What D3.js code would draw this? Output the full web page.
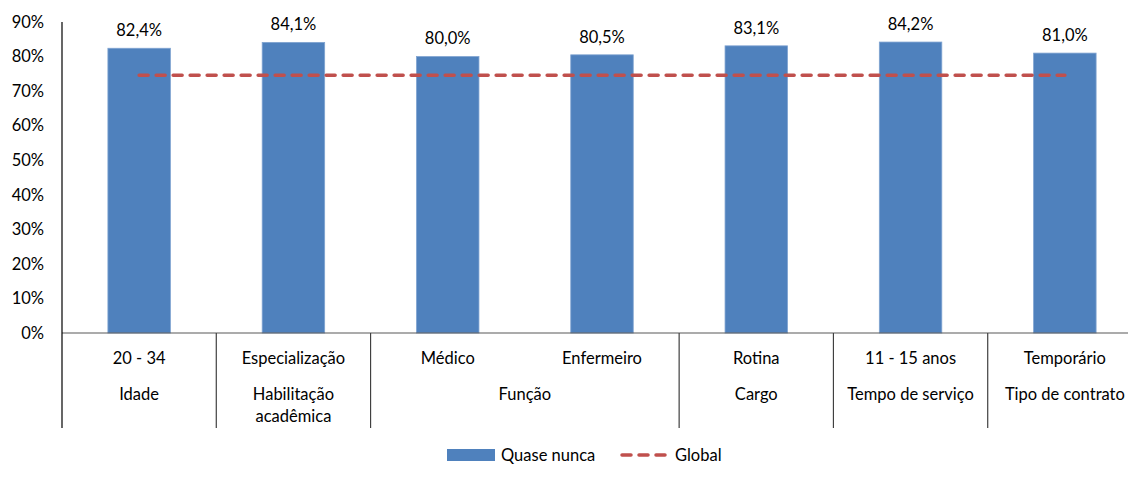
<!DOCTYPE html>
<html>
<head>
<meta charset="utf-8">
<script src="https://cdn.jsdelivr.net/npm/d3@7"></script>
<style>
  body { margin: 0; background: #fff; }
  svg { display: block; font-family: Lato, "Open Sans", sans-serif; }
</style>
</head>
<body>
<svg id="chart"></svg>
<script>
// data
var categories = ["20 - 34", "Especialização", "Médico", "Enfermeiro", "Rotina", "11 - 15 anos", "Temporário"];
var values = [82.4, 84.1, 80.0, 80.5, 83.1, 84.2, 81.0];
var globalValues = [74.6, 74.6, 74.6, 74.6, 74.6, 74.6, 74.6];
var groupNames = [["Idade"], ["Habilitação", "acadêmica"], ["Função"], ["Cargo"], ["Tempo de serviço"], ["Tipo de contrato"]];
var groupSizes = [1, 1, 2, 1, 1, 1];
var yTicks = [0, 10, 20, 30, 40, 50, 60, 70, 80, 90];

var width = 1128, height = 478;
var plotLeft = 62, plotRight = 1142, plotTop = 22, base = 333;
var fs = 16.5;

var svg = d3.select("#chart").attr("width", width).attr("height", height);

var x = d3.scaleBand().domain(categories).range([plotLeft, plotRight])
          .paddingInner(0.595).paddingOuter(0.2975);
var slot = d3.scaleBand().domain(categories).range([plotLeft, plotRight]);
var y = d3.scaleLinear().domain([0, 90]).range([base, plotTop]);

function pct(v) { return v.toFixed(1).replace(".", ",") + "%"; }

// y tick labels
svg.append("g").selectAll("text")
   .data(yTicks).enter().append("text")
   .attr("x", 44).attr("y", function(d) { return y(d); })
   .attr("dy", "0.35em").attr("text-anchor", "end")
   .attr("font-size", fs).attr("fill", "#000")
   .text(function(d) { return d + "%"; });

// bars
svg.append("g").selectAll("rect")
   .data(values).enter().append("rect")
   .attr("x", function(d, i) { return x(categories[i]); })
   .attr("y", function(d) { return y(d); })
   .attr("width", x.bandwidth())
   .attr("height", function(d) { return base - y(d); })
   .attr("fill", "#4F81BD")
   .attr("stroke", "#7FA3D1").attr("stroke-width", 0.8);

// value labels
svg.append("g").selectAll("text")
   .data(values).enter().append("text")
   .attr("x", function(d, i) { return x(categories[i]) + x.bandwidth() / 2; })
   .attr("y", function(d) { return y(d) - 18; })
   .attr("dy", "0.35em").attr("text-anchor", "middle")
   .attr("font-size", fs).attr("fill", "#000")
   .text(pct);

// global line
var line = d3.line()
   .x(function(d, i) { return slot(categories[i]) + slot.bandwidth() / 2; })
   .y(function(d) { return y(d); });
svg.append("path").datum(globalValues)
   .attr("d", line).attr("fill", "none")
   .attr("stroke", "#C0504D").attr("stroke-width", 3.5)
   .attr("stroke-dasharray", "9,8").attr("stroke-linecap", "round");

// axis lines
svg.append("line").attr("x1", plotLeft).attr("x2", width)
   .attr("y1", base).attr("y2", base)
   .attr("stroke", "#595959").attr("stroke-width", 1.2);
svg.append("line").attr("x1", plotLeft).attr("x2", plotLeft)
   .attr("y1", plotTop).attr("y2", 428)
   .attr("stroke", "#000").attr("stroke-width", 1.2);

// category labels
svg.append("g").selectAll("text")
   .data(categories).enter().append("text")
   .attr("x", function(d) { return slot(d) + slot.bandwidth() / 2; })
   .attr("y", 358).attr("dy", "0.35em").attr("text-anchor", "middle")
   .attr("font-size", fs).attr("fill", "#000")
   .text(function(d) { return d; });

// group labels and separators
var start = 0;
groupNames.forEach(function(g, gi) {
  var x0 = slot(categories[start]);
  var x1 = slot(categories[start + groupSizes[gi] - 1]) + slot.bandwidth();
  start += groupSizes[gi];
  var t = svg.append("text")
     .attr("x", (x0 + x1) / 2).attr("y", 394)
     .attr("text-anchor", "middle").attr("font-size", fs).attr("fill", "#000");
  g.forEach(function(s, si) {
    t.append("tspan").attr("x", (x0 + x1) / 2)
     .attr("dy", si === 0 ? "0.35em" : "1.35em").text(s);
  });
  if (gi < groupNames.length - 1) {
    svg.append("line").attr("x1", x1).attr("x2", x1)
       .attr("y1", base).attr("y2", 428)
       .attr("stroke", "#404040").attr("stroke-width", 1.2);
  }
});

// legend
var lg = svg.append("g");
lg.append("rect").attr("x", 447).attr("y", 449).attr("width", 48).attr("height", 12)
  .attr("fill", "#4F81BD");
lg.append("text").attr("x", 501).attr("y", 455).attr("dy", "0.35em")
  .attr("font-size", fs).text("Quase nunca");
lg.append("line").attr("x1", 622).attr("x2", 668).attr("y1", 455).attr("y2", 455)
  .attr("stroke", "#C0504D").attr("stroke-width", 3.5)
  .attr("stroke-dasharray", "9,8").attr("stroke-linecap", "round");
lg.append("text").attr("x", 675).attr("y", 455).attr("dy", "0.35em")
  .attr("font-size", fs).text("Global");
</script>
</body>
</html>
